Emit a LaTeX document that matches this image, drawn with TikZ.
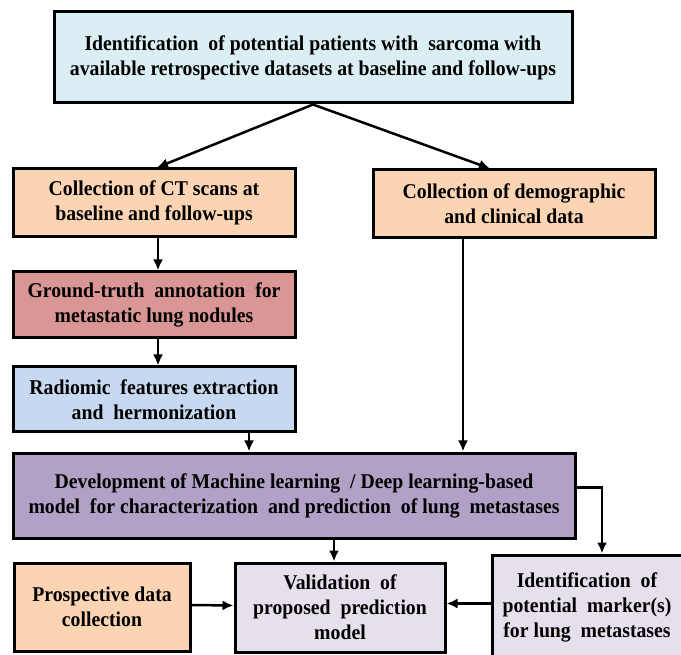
\documentclass[tikz,border=0pt]{standalone}
\usepackage{fontspec}
\setmainfont{Liberation Serif}[FakeStretch=0.94]
\usetikzlibrary{arrows.meta}
\definecolor{topblue}{HTML}{DAEEF3}
\definecolor{peach}{HTML}{FBD4B4}
\definecolor{rose}{HTML}{D99694}
\definecolor{radblue}{HTML}{C6D9F0}
\definecolor{mlpurple}{HTML}{B2A1C7}
\definecolor{lavender}{HTML}{E5E0EC}
\begin{document}
\begin{tikzpicture}[x=1pt,y=-1pt,
  box/.style={draw=black,line width=3pt,inner sep=0pt,align=center,
    font=\bfseries\fontsize{21}{25}\selectfont},
  arr/.style={-{Latex[length=11pt,width=10pt]},line width=2.5pt}]
\useasboundingbox (0,0) rectangle (681,655);
\node[box,fill=topblue,minimum width=518pt,minimum height=91pt] (top) at (313,57.5)
  {Identification\ \ of potential patients with\ \ sarcoma with\\available retrospective datasets at baseline and follow-ups};
\node[box,fill=peach,minimum width=282pt,minimum height=68pt] (ct) at (154,203)
  {Collection of CT scans at\\baseline and follow-ups};
\node[box,fill=peach,minimum width=282pt,minimum height=68pt] (demo) at (514,204)
  {Collection of demographic\\and clinical data};
\node[box,fill=rose,minimum width=282pt,minimum height=66pt] (gt) at (154,305)
  {Ground-truth\ \ annotation\ \ for\\metastatic lung nodules};
\node[box,fill=radblue,minimum width=282pt,minimum height=65pt] (rad) at (154,399.5)
  {Radiomic\ \ features extraction\\and\ \ hermonization};
\node[box,fill=mlpurple,minimum width=562pt,minimum height=85pt] (ml) at (294,495.5)
  {Development of Machine learning\ \ / Deep learning-based\\model\ \ for characterization\ \ and prediction\ \ of lung\ \ metastases};
\node[box,fill=peach,minimum width=176pt,minimum height=88pt] (pros) at (102,607)
  {Prospective data\\collection};
\node[box,fill=lavender,minimum width=210pt,minimum height=89pt] (val) at (340,607.5)
  {Validation\ \ of\\proposed\ \ prediction\\model};
\begin{scope}
\clip (0,0) rectangle (681,655);
\node[box,fill=lavender,minimum width=190pt,minimum height=105pt] (ident) at (587,607.5)
  {Identification\ \ of\\potential\ \ marker(s)\\for lung\ \ metastases};
\end{scope}
\draw[arr] (top.south) -- ([xshift=3pt]ct.north);
\draw[arr] (top.south) -- ([xshift=-24pt]demo.north);
\draw[arr] ([xshift=4pt]ct.south) -- ([xshift=4pt]gt.north);
\draw[arr] ([xshift=4pt]gt.south) -- ([xshift=4pt]rad.north);
\draw[arr] ([xshift=95pt]rad.south) coordinate (r1) -- (r1 |- ml.north);
\draw[arr] ([xshift=-51pt]demo.south) coordinate (d1) -- (d1 |- ml.north);
\draw[arr] ([xshift=-6pt]val.north) coordinate (v1) (v1 |- ml.south) -- (v1);
\draw[arr] ([yshift=8pt]ml.east) -| ([xshift=15pt]ident.north);
\draw[arr] ([yshift=2pt]pros.east) -- ([yshift=2pt]val.west);
\draw[arr] ([yshift=4pt]ident.west) -- ([yshift=4pt]val.east);
\end{tikzpicture}
\end{document}
